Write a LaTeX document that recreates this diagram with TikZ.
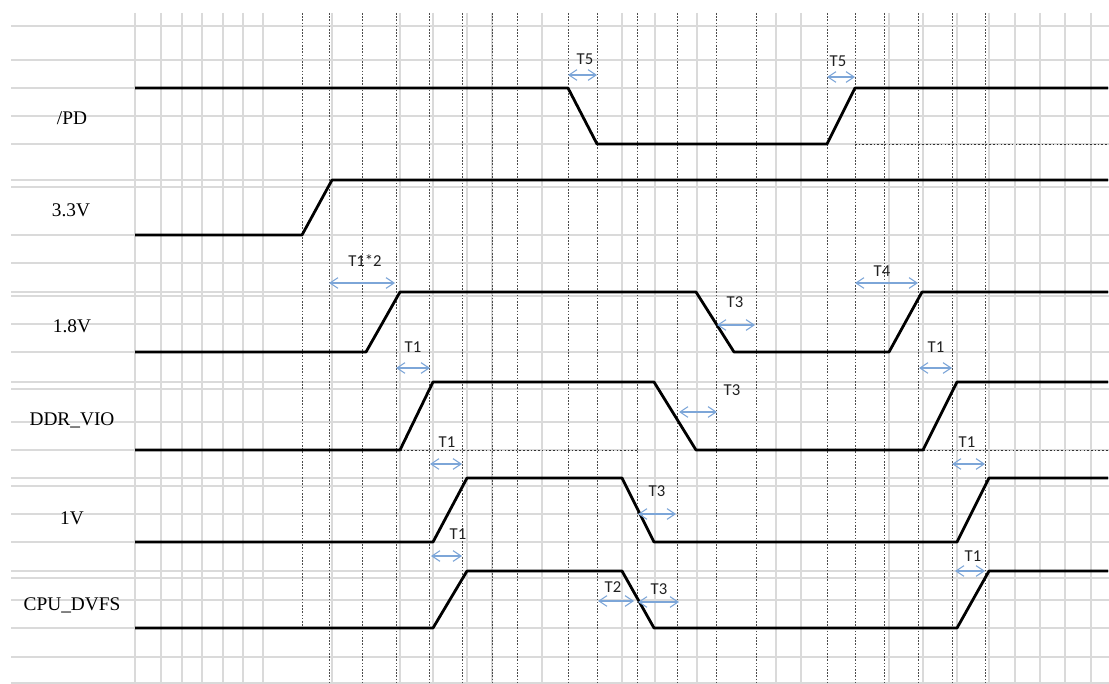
\documentclass[tikz,border=0pt]{standalone}
\usepackage{fontspec}
\setmainfont{Liberation Serif}
\newfontfamily\calib{Carlito}
\usetikzlibrary{arrows.meta}
\definecolor{gridgray}{HTML}{DADADA}
\definecolor{arrblue}{HTML}{7DA6D8}
\definecolor{lbltext}{HTML}{202020}
\begin{document}
\begin{tikzpicture}[x=0.75pt,y=-0.75pt,
  gridline/.style={draw=gridgray,line width=0.8pt},
  dashline/.style={draw=black!70,line width=0.6pt,dash pattern=on 1.2pt off 1.2pt},
  dotline/.style={draw=black!80,line width=0.6pt,dash pattern=on 1.2pt off 1.6pt},
  sig/.style={draw=black,line width=2.1pt,line join=round},
  tarr/.style={draw=arrblue,line width=0.8pt,{Straight Barb[length=6pt,width=8pt]}-{Straight Barb[length=6pt,width=8pt]}},
  tlbl/.style={font=\calib\fontsize{12.5}{14}\selectfont,text=lbltext,inner sep=0pt},
  slbl/.style={font=\fontsize{14.5}{16}\selectfont,inner sep=0pt}]
\useasboundingbox (0,0) rectangle (1109,684);
\fill[white] (0,0) rectangle (1109,684);
% horizontal grid
\foreach \y in {26,60,88,116,144,180,187,235,263,292,296,324,352,382,389,422,450,478,486,514,542,571,578,600,628,657,683}
  \draw[gridline] (11,\y) -- (1109,\y);
% vertical grid
\foreach \x in {135,161,182,202,223,243,263,332,400,433,467,492,542,622,655,697,776,801,889,923,957,989,1015,1040,1065,1091}
  \draw[gridline] (\x,13) -- (\x,684);
% dashed time markers
\draw[dashline] (302,13) -- (302,628);
\foreach \x in {329,362,396,429,462,492,517,568,597,637,677,716,756,827,855,884,918,952,985}
  \draw[dashline] (\x,13) -- (\x,684);
% dotted reference lines
\draw[dotline] (855,144) -- (1108,144);
\draw[dotline] (400,450) -- (637,450);
\draw[dotline] (923,450) -- (1108,450);
% signals
\draw[sig] (135,88) -- (568,88) -- (597,144) -- (827,144) -- (855,88) -- (1108,88);
\draw[sig] (135,235) -- (302,235) -- (332,180) -- (1108,180);
\draw[sig] (135,352) -- (366,352) -- (400,292) -- (696,292) -- (734,352) -- (889,352) -- (922,292) -- (1108,292);
\draw[sig] (135,450) -- (400,450) -- (433,382) -- (654,382) -- (696,450) -- (923,450) -- (957,382) -- (1108,382);
\draw[sig] (135,542) -- (433,542) -- (467,478) -- (622,478) -- (654,542) -- (957,542) -- (989,478) -- (1108,478);
\draw[sig] (135,628) -- (433,628) -- (467,571) -- (622,571) -- (654,628) -- (957,628) -- (989,571) -- (1108,571);
% signal names
\node[slbl] (npd) at (72,118) {/PD};
\node[slbl] (n33) at (71,210) {3.3V};
\node[slbl] (n18) at (72,326) {1.8V};
\node[slbl] (nddr) at (72,420) {DDR\_VIO};
\node[slbl] (n1v) at (72,518) {1V};
\node[slbl] (ncpu) at (72,605) {CPU\_DVFS};
% timing arrows
\draw[tarr] (568,75) -- (597,75);
\node[tlbl] (t5a) at (585,59) {T5};
\draw[tarr] (827,77) -- (855,77);
\node[tlbl] (t5b) at (838,61) {T5};
\draw[tarr] (329,283) -- (395,283);
\node[tlbl] (t12) at (365,261) {T1*2};
\draw[tarr] (855,283) -- (918,283);
\node[tlbl] (t4) at (882,271) {T4};
\draw[tarr] (717,325) -- (755,325);
\node[tlbl] (t3a) at (735,302) {T3};
\draw[tarr] (396,368) -- (430,368);
\node[tlbl] (t1a) at (413,347) {T1};
\draw[tarr] (679,412) -- (717,412);
\node[tlbl] (t3b) at (732,390) {T3};
\draw[tarr] (919,368) -- (952,368);
\node[tlbl] (t1b) at (936,347) {T1};
\draw[tarr] (430,464) -- (462,464);
\node[tlbl] (t1c) at (447,442) {T1};
\draw[tarr] (952,464) -- (985,464);
\node[tlbl] (t1d) at (967,442) {T1};
\draw[tarr] (638,514) -- (676,514);
\node[tlbl] (t3c) at (657,491) {T3};
\draw[tarr] (431,556) -- (462,556);
\node[tlbl] (t1e) at (458,534) {T1};
\draw[tarr] (955,571) -- (985,571);
\node[tlbl] (t1f) at (973,556) {T1};
\draw[tarr] (598,601) -- (634,601);
\node[tlbl] (t2) at (613,587) {T2};
\draw[tarr] (638,602) -- (679,602);
\node[tlbl] (t3d) at (659,589) {T3};
\end{tikzpicture}
\end{document}
